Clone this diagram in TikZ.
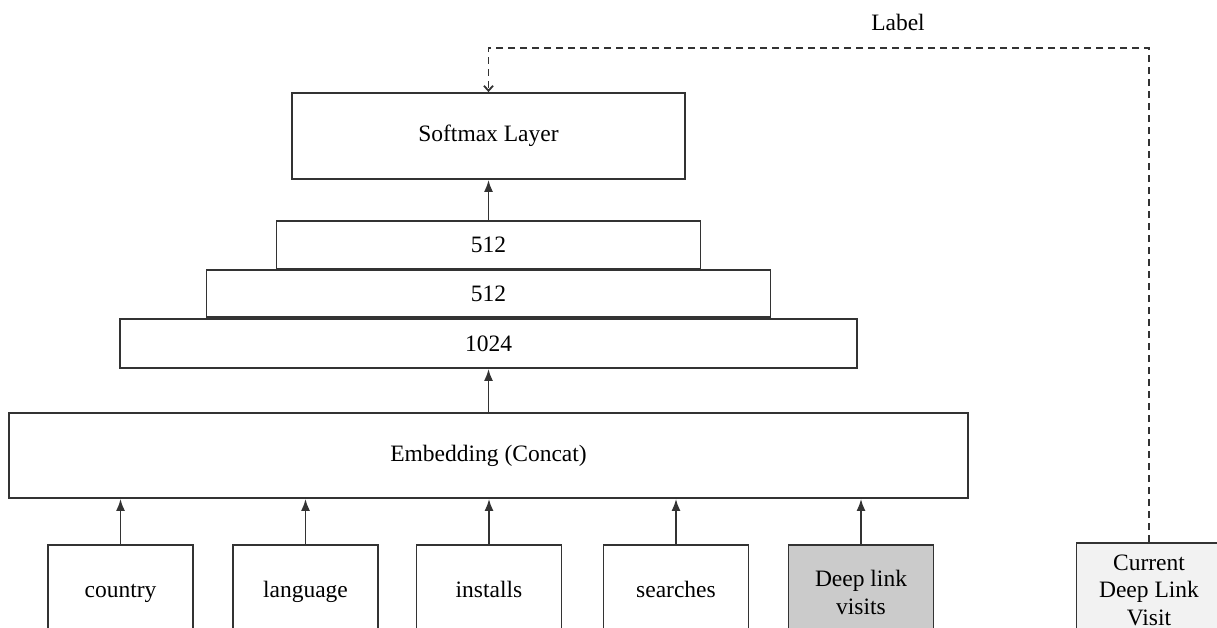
\documentclass[tikz,border=0pt]{standalone}
\usepackage{fontspec}
\setmainfont{Liberation Serif}
\usetikzlibrary{positioning, arrows.meta}
\tikzset{>={Latex[length=12pt,width=9pt]}}
\definecolor{edge}{HTML}{333333}
\definecolor{deepgray}{HTML}{CBCBCB}
\definecolor{lightgray}{HTML}{F2F2F2}

\begin{document}
\begin{tikzpicture}[x=1pt, y=-1pt, line width=1.8pt,
    font=\fontsize{23.5}{28}\selectfont,
    layer/.style={draw=edge, minimum height=47pt, inner sep=0pt},
    feat/.style={draw=edge, minimum width=145pt, minimum height=94pt, align=center,
        inner sep=0pt, text height=16pt, text depth=5pt},
    multi/.style={text height=, text depth=}]
    \useasboundingbox (0,0) rectangle (1217,628);
    \clip (0,0) rectangle (1217,628);
    % output and hidden layers
    \node[layer, minimum width=393pt, minimum height=86pt] (sm) at (488.5,136) {Softmax Layer};
    \node[layer, minimum width=737pt, minimum height=49pt] (h1) at (488.5,343.5) {1024};
    \node[layer, minimum width=564pt, above=0pt of h1] (h2) {512};
    \node[layer, minimum width=424pt, above=0pt of h2] (h3) {512};
    \node[layer, minimum width=959pt, minimum height=85pt] (emb) at (488.5,455.5) {Embedding (Concat)};
    % input features
    \node[feat] (ctry) at (120.5,592) {country};
    \node[feat] (lang) at (305.5,592) {language};
    \node[feat] (inst) at (489,592) {installs};
    \node[feat] (srch) at (676,592) {searches};
    \node[feat, multi, fill=deepgray] (dlv) at (861,592) {Deep link\\visits};
    \node[feat, multi, fill=lightgray, font=\fontsize{23.5}{27.5}\selectfont] (cur) at (1149,590) {Current\\Deep Link\\Visit};
    \draw[->, edge] (h3.north) -- (sm.south);
    \draw[->, edge] (emb.north) -- (h1.south);
    \foreach \n in {ctry,lang,inst,srch,dlv}
    \draw[->, edge] (\n.north) -- (\n.north |- emb.south);
    % label feedback
    \coordinate (lblR) at (1149,48);
    \coordinate (lblL) at (488.5,48);
    \draw[edge, dash pattern=on 7pt off 5pt, -{Straight Barb[length=5pt,width=9pt]}]
        (cur.north) -- (lblR) -- (lblL) -- (sm.north);
    \node (lbl) at (898,22) {Label};
\end{tikzpicture}
\end{document}
